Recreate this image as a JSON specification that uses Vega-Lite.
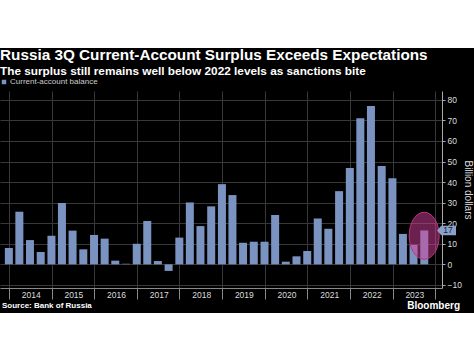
{
  "$schema": "https://vega.github.io/schema/vega-lite/v6.json",
  "background": "black",
  "padding": 0,
  "spacing": 0,
  "config": {"view": {"stroke": null}, "font": "Liberation Sans", "concat": {"spacing": 0}},
  "resolve": {"scale": {"color": "independent", "x": "independent", "y": "independent"}, "legend": {"color": "independent"}},
  "datasets": {
    "balance": [
      {"date": "2013-12-31", "value": 8.0},
      {"date": "2014-03-31", "value": 25.6},
      {"date": "2014-06-30", "value": 11.8},
      {"date": "2014-09-30", "value": 6.0},
      {"date": "2014-12-31", "value": 13.9},
      {"date": "2015-03-31", "value": 29.8},
      {"date": "2015-06-30", "value": 16.4},
      {"date": "2015-09-30", "value": 7.3},
      {"date": "2015-12-31", "value": 14.3},
      {"date": "2016-03-31", "value": 12.5},
      {"date": "2016-06-30", "value": 1.8},
      {"date": "2016-09-30", "value": 0.3},
      {"date": "2016-12-31", "value": 10.0},
      {"date": "2017-03-31", "value": 21.1},
      {"date": "2017-06-30", "value": 1.6},
      {"date": "2017-09-30", "value": -3.2},
      {"date": "2017-12-31", "value": 13.0},
      {"date": "2018-03-31", "value": 30.1},
      {"date": "2018-06-30", "value": 18.6},
      {"date": "2018-09-30", "value": 28.2},
      {"date": "2018-12-31", "value": 39.0},
      {"date": "2019-03-31", "value": 33.7},
      {"date": "2019-06-30", "value": 10.5},
      {"date": "2019-09-30", "value": 11.0},
      {"date": "2019-12-31", "value": 11.0},
      {"date": "2020-03-31", "value": 24.0},
      {"date": "2020-06-30", "value": 1.3},
      {"date": "2020-09-30", "value": 3.9},
      {"date": "2020-12-31", "value": 6.5},
      {"date": "2021-03-31", "value": 22.3},
      {"date": "2021-06-30", "value": 17.3},
      {"date": "2021-09-30", "value": 35.6},
      {"date": "2021-12-31", "value": 46.9},
      {"date": "2022-03-31", "value": 71.1},
      {"date": "2022-06-30", "value": 77.0},
      {"date": "2022-09-30", "value": 47.8},
      {"date": "2022-12-31", "value": 41.9},
      {"date": "2023-03-31", "value": 14.8},
      {"date": "2023-06-30", "value": 9.4},
      {"date": "2023-09-30", "value": 16.5}
    ],
    "highlight": [{"date": "2023-09-29", "value": 13.9}],
    "last": [{"value": 16.5, "label": "17"}],
    "footer": [
      {"side": "left", "text": "Source: Bank of Russia"},
      {"side": "right", "text": "Bloomberg"}
    ]
  },
  "vconcat": [
    {
      "width": 474, "height": 48,
      "view": {"fill": "white", "stroke": null},
      "data": {"values": []},
      "mark": "rect",
      "encoding": {}
    },
    {
      "width": 442,
      "height": 197,
      "title": {
        "text": "Russia 3Q Current-Account Surplus Exceeds Expectations",
        "subtitle": "The surplus still remains well below 2022 levels as sanctions bite",
        "anchor": "start",
        "frame": "group",
        "color": "white",
        "font": "Liberation Sans",
        "fontSize": 15.3,
        "fontWeight": "bold",
        "subtitleColor": "white",
        "subtitleFont": "Liberation Sans",
        "subtitleFontSize": 11.8,
        "subtitleFontWeight": "bold",
        "subtitlePadding": 2,
        "offset": 0.5
      },
      "resolve": {"axis": {"x": "independent", "y": "independent"}},
      "layer": [
        {
          "data": {"name": "balance"},
          "mark": {"type": "bar", "size": 8},
          "encoding": {
            "x": {
              "field": "date", "type": "temporal",
              "scale": {"type": "utc", "domain": [
                {"year": 2013, "month": 11, "date": 28, "utc": true},
                {"year": 2024, "month": 1, "date": 17, "utc": true}
              ]},
              "axis": {
                "values": [
                  {"year": 2014, "month": 1, "date": 1, "utc": true},
                  {"year": 2015, "month": 1, "date": 1, "utc": true},
                  {"year": 2016, "month": 1, "date": 1, "utc": true},
                  {"year": 2017, "month": 1, "date": 1, "utc": true},
                  {"year": 2018, "month": 1, "date": 1, "utc": true},
                  {"year": 2019, "month": 1, "date": 1, "utc": true},
                  {"year": 2020, "month": 1, "date": 1, "utc": true},
                  {"year": 2021, "month": 1, "date": 1, "utc": true},
                  {"year": 2022, "month": 1, "date": 1, "utc": true},
                  {"year": 2023, "month": 1, "date": 1, "utc": true},
                  {"year": 2024, "month": 1, "date": 1, "utc": true}
                ],
                "labelExpr": "utcFormat(datum.value, '%Y') == '2024' ? '' : utcFormat(datum.value, '%Y')",
                "labelOffset": 21.8,
                "labelFlush": false,
                "labelOverlap": false,
                "tickSize": 11,
                "tickColor": "#8a8a8a",
                "domainColor": "#8a8a8a",
                "grid": true,
                "gridColor": "#383838",
                "labelColor": "#dddddd",
                "labelFontSize": 8.5,
                "labelPadding": -9,
                "title": null
              }
            },
            "y": {
              "field": "value", "type": "quantitative",
              "scale": {"domain": [-11.5, 84.3], "nice": false, "zero": false},
              "axis": {
                "orient": "right",
                "values": [-10, 0, 10, 20, 30, 40, 50, 60, 70, 80],
                "labelOverlap": false,
                "grid": true,
                "gridColor": "#383838",
                "tickSize": 3,
                "tickColor": "#aaaaaa",
                "domainColor": "#aaaaaa",
                "labelColor": "#dddddd",
                "labelFontSize": 8.5,
                "labelPadding": 2,
                "title": "Billion dollars",
                "titleColor": "#dddddd",
                "titleFontSize": 10,
                "titleFontWeight": "normal",
                "titlePadding": 1
              }
            },
            "color": {
              "datum": "Current-account balance", "type": "nominal",
              "scale": {"range": ["#7b93c0"]},
              "legend": {
                "orient": "top",
                "title": null,
                "symbolType": "square",
                "symbolSize": 20,
                "symbolStrokeWidth": 0,
                "labelColor": "#cccccc",
                "labelFontSize": 8,
                "labelOffset": 2,
                "offset": 5.5,
                "padding": 0
              }
            }
          }
        },
        {
          "data": {"name": "highlight"},
          "mark": {
            "type": "point",
            "shape": "M0,-1.57A1,1.57,0,1,1,0,1.57A1,1.57,0,1,1,0,-1.57Z",
            "size": 900,
            "filled": true,
            "fill": "#d8409a",
            "fillOpacity": 0.5,
            "stroke": "#b8387f",
            "strokeWidth": 1,
            "opacity": 1
          },
          "encoding": {
            "x": {"field": "date", "type": "temporal", "axis": null},
            "y": {"field": "value", "type": "quantitative", "axis": null}
          }
        },
        {
          "data": {"name": "last"},
          "mark": {
            "type": "point",
            "shape": "M0,0L0.45,-0.5L2,-0.5L2,0.5L0.45,0.5Z",
            "size": 361,
            "filled": true,
            "fill": "#8aa0c8",
            "opacity": 1
          },
          "encoding": {
            "x": {"datum": {"year": 2024, "month": 1, "date": 17, "utc": true}, "type": "temporal", "axis": null},
            "y": {"field": "value", "type": "quantitative", "axis": null}
          }
        },
        {
          "data": {"name": "last"},
          "mark": {"type": "text", "dx": 11, "align": "center", "baseline": "middle", "fontSize": 8.5, "fill": "#14203c"},
          "encoding": {
            "x": {"datum": {"year": 2024, "month": 1, "date": 17, "utc": true}, "type": "temporal", "axis": null},
            "y": {"field": "value", "type": "quantitative", "axis": null},
            "text": {"field": "label"}
          }
        }
      ]
    },
    {
      "width": 474,
      "height": 11,
      "data": {"name": "footer"},
      "layer": [
        {
          "transform": [{"filter": "datum.side == 'left'"}],
          "mark": {"type": "text", "align": "left", "baseline": "middle", "dy": -2, "fontSize": 8, "fontWeight": "bold", "fill": "white"},
          "encoding": {
            "x": {"field": "side", "type": "ordinal", "scale": {"type": "point", "domain": ["left", "right"], "range": [2, 460], "padding": 0}, "axis": null},
            "text": {"field": "text"}
          }
        },
        {
          "transform": [{"filter": "datum.side == 'right'"}],
          "mark": {"type": "text", "align": "right", "baseline": "middle", "dy": -2, "fontSize": 10, "fontWeight": "bold", "fill": "white"},
          "encoding": {
            "x": {"field": "side", "type": "ordinal"},
            "text": {"field": "text"}
          }
        }
      ]
    },
    {
      "width": 474, "height": 44,
      "view": {"fill": "white", "stroke": null},
      "data": {"values": []},
      "mark": "rect",
      "encoding": {}
    }
  ]
}
